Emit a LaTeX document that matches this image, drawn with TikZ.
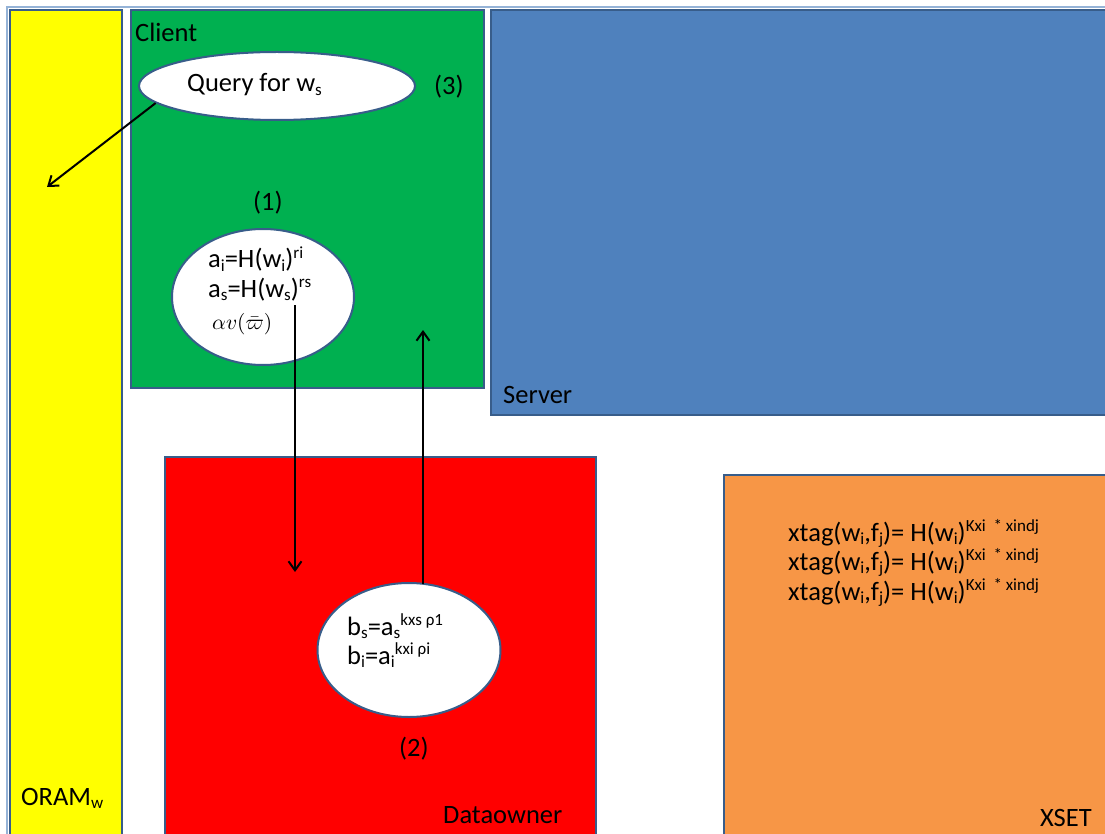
\documentclass[tikz,border=0pt]{standalone}
\usepackage{fontspec}
\setmainfont{Carlito}
\usetikzlibrary{arrows.meta,shapes.geometric}
\definecolor{rim}{HTML}{385D8A}
\definecolor{frame}{HTML}{95B3D7}
\definecolor{oramfill}{HTML}{FFFF00}
\definecolor{clientfill}{HTML}{00B050}
\definecolor{serverfill}{HTML}{4F81BD}
\definecolor{ownerfill}{HTML}{FF0000}
\definecolor{xsetfill}{HTML}{F79646}
% Office-style raised and lowered script text
\newcommand\up[1]{\raisebox{0.34em}{\fontsize{17}{17}\selectfont #1}}
\newcommand\dn[1]{\raisebox{-0.14em}{\fontsize{17}{17}\selectfont #1}}
\tikzset{
  panel/.style={draw=rim, line width=2pt},
  oval/.style={ellipse, draw=rim, line width=2pt, fill=white, inner sep=0pt},
  lbl/.style={inner sep=0pt, font=\fontsize{26.5}{30}\selectfont},
  conn/.style={draw=black, line width=2pt, -{Straight Barb[length=9pt,width=13pt,line width=2pt]}},
}
\begin{document}
\begin{tikzpicture}[x=1pt,y=-1pt]
\useasboundingbox (0,0) rectangle (1105,834);
\clip (0,0) rectangle (1105,834);
\fill[white] (0,0) rectangle (1105,834);

% outer frame
\draw[frame, line width=2pt] (7,850) -- (7,7) -- (1115,7);

% panels
\path[panel, fill=oramfill]   (10,10)  rectangle (122,850);
\path[panel, fill=clientfill] (131,10) rectangle (484,388);
\path[panel, fill=serverfill] (491,10) rectangle (1115,415);
\path[panel, fill=ownerfill]  (165,457) rectangle (596,850);
\path[panel, fill=xsetfill]   (724,475) rectangle (1115,850);

% panel titles
\node[lbl, anchor=base west] (tclient) at (135,42) {Client};
\node[lbl, anchor=base west] (tserver) at (503,403) {Server};
\node[lbl, anchor=base west] (towner) at (443,823) {Dataowner};
\node[lbl, anchor=base west] (txset) at (1040,826) {XSET};
\node[lbl, anchor=base west] (toram) at (21,805) {ORAM\dn{w}};

% ellipses
\node[oval, minimum width=276, minimum height=68] (query) at (277,86) {};
\node[oval, minimum width=182, minimum height=136] (ballA) at (263,297) {};
\node[oval, minimum width=183, minimum height=134] (ballB) at (409,650) {};

\node[lbl, anchor=base west] (qtext) at (187,92) {Query for w\dn{s}};
\node[lbl, anchor=base west] (step3) at (434,95) {(3)};
\node[lbl, anchor=base west] (step1) at (253,211) {(1)};
\node[lbl, anchor=base west] (step2) at (399,756) {(2)};

\node[lbl, anchor=base west] (a1) at (208,268) {a\dn{i}=H(w\dn{i})\up{ri}};
\node[lbl, anchor=base west] (a2) at (208,297) {a\dn{s}=H(w\dn{s})\up{rs}};
\node[inner sep=0pt, anchor=base west] (a3) at (212,329) {\scalebox{2.15}{$\alpha v(\bar{\varpi})$}};

\node[lbl, anchor=base west] (b1) at (347,635) {b\dn{s}=a\dn{s}\up{kxs ρ1}};
\node[lbl, anchor=base west] (b2) at (347,664) {b\dn{i}=a\dn{i}\up{kxi ρi}};

\node[lbl, anchor=base west] (x1) at (788,541) {xtag(w\dn{i},f\dn{j})= H(w\dn{i})\up{Kxi~~* xindj}};
\node[lbl, anchor=base west] (x2) at (788,570) {xtag(w\dn{i},f\dn{j})= H(w\dn{i})\up{Kxi~~* xindj}};
\node[lbl, anchor=base west] (x3) at (788,600) {xtag(w\dn{i},f\dn{j})= H(w\dn{i})\up{Kxi~~* xindj}};

% connectors
\coordinate (oramdrop) at (47,187);
\coordinate (downstart) at (295,305);
\coordinate (downend) at (295,572);
\coordinate (upstart) at (423,584);
\coordinate (upend) at (423,330);
\draw[conn] (query.188) -- (oramdrop);
\draw[conn] (downstart) -- (downend);
\draw[conn] (upstart) -- (upend);
\end{tikzpicture}
\end{document}
